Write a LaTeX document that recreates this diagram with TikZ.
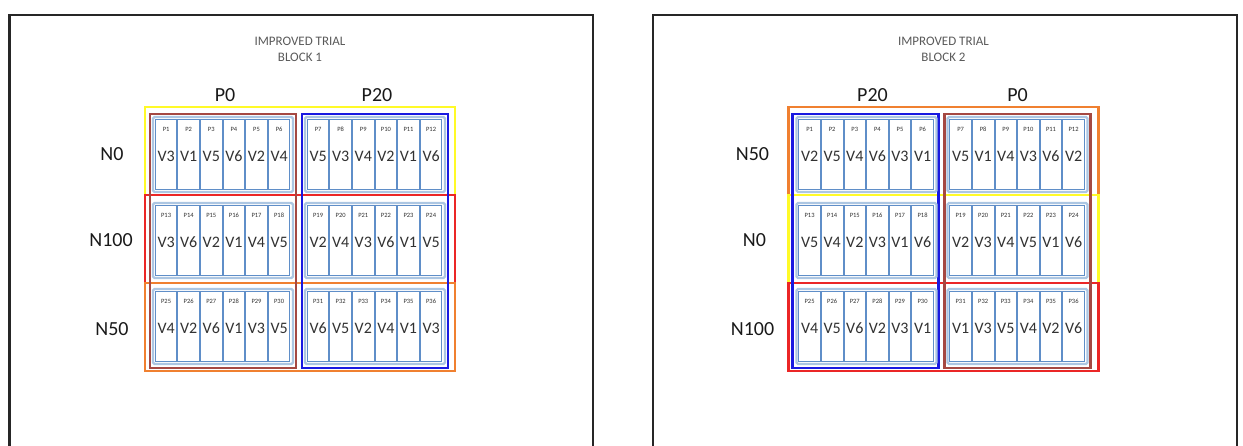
\documentclass[tikz,border=0pt]{standalone}
\usepackage{fontspec}
\setmainfont{Carlito}
\definecolor{cyel}{RGB}{255,250,40}
\definecolor{cbrown}{RGB}{165,72,66}
\definecolor{cblue}{RGB}{25,25,225}
\definecolor{cred}{RGB}{235,38,38}
\definecolor{corange}{RGB}{240,128,48}
\definecolor{lblue}{RGB}{172,198,226}
\definecolor{mblue}{RGB}{95,142,200}
\definecolor{txt}{RGB}{50,50,50}
\tikzset{
  box/.style={rectangle, inner sep=0pt, outer sep=0pt, anchor=north west},
  frame/.style={draw=black!85, line width=2.6pt},
  rowbox/.style={box, line width=2.4pt, minimum width=310pt, minimum height=88pt},
  colbox/.style={box, line width=2.2pt, minimum width=146pt, minimum height=254pt},
  blockbox/.style={box, draw=lblue, line width=2.4pt, rounded corners=1.5pt, fill=white, minimum width=140pt, minimum height=75pt},
  plotcol/.style={box, draw=mblue, line width=1pt, fill=white, minimum width=21.6pt, minimum height=70pt},
  plab/.style={inner sep=0pt, text=txt, font=\fontsize{6.5}{7}\selectfont},
  vlab/.style={inner sep=0pt, text=txt, font=\fontsize{16}{16}\selectfont},
  head/.style={inner sep=0pt, text=black!90, font=\fontsize{20}{20}\selectfont},
  title/.style={inner sep=0pt, text=black!65, font=\fontsize{13}{13}\selectfont},
}
\newcommand\myblock[5]{%
  \node[blockbox] (#1) at (#2,#3) {};
  \foreach \v [count=\i from 0] in {#5}{%
    \pgfmathtruncatemacro\pn{#4+\i}%
    \node[plotcol] (#1c\i) at ({#2+2.3+\i*22.6},{#3+2.5}) {};
    \node[plab] at ([yshift=-10pt]#1c\i.north) {P\pn};
    \node[vlab] at ([yshift=-37pt]#1c\i.north) {\v};
  }%
}
\begin{document}
\begin{tikzpicture}[x=1pt,y=-1pt]
\useasboundingbox (0,0) rectangle (1243,446);
% ---------------- left panel ----------------
\draw[frame] (9.5,447) -- (9.5,15) -- (593,15) -- (593,447);
\node[title] (lt1) at (300,41) {IMPROVED TRIAL};
\node[title] (lt2) at (300,57) {BLOCK 1};
\node[head] (lp0) at (225,95) {P0};
\node[head] (lp20) at (377,95) {P20};
\node[head] (ln0) at (112,154) {N0};
\node[head] (ln100) at (111,240) {N100};
\node[head] (ln50) at (112,329) {N50};
\node[rowbox, draw=cyel] (lr1) at (145,107) {};
\node[rowbox, draw=cred] (lr2) at (145,195) {};
\node[rowbox, draw=corange] (lr3) at (145,283) {};
\node[colbox, draw=cbrown] (lc1) at (150,114) {};
\node[colbox, draw=cblue] (lc2) at (302,114) {};
\myblock{La}{153}{117}{1}{V3,V1,V5,V6,V2,V4}
\myblock{Lb}{305}{117}{7}{V5,V3,V4,V2,V1,V6}
\myblock{Lc}{153}{203}{13}{V3,V6,V2,V1,V4,V5}
\myblock{Ld}{305}{203}{19}{V2,V4,V3,V6,V1,V5}
\myblock{Le}{153}{289}{25}{V4,V2,V6,V1,V3,V5}
\myblock{Lf}{305}{289}{31}{V6,V5,V2,V4,V1,V3}
% ---------------- right panel ----------------
\begin{scope}[xshift=643.5pt]
\draw[frame] (9.5,447) -- (9.5,15) -- (593.5,15) -- (593.5,447);
\node[title] (rt1) at (300,41) {IMPROVED TRIAL};
\node[title] (rt2) at (300,57) {BLOCK 2};
\node[head] (rp20) at (229,95) {P20};
\node[head] (rp0) at (374,95) {P0};
\node[head] (rn50) at (109,154) {N50};
\node[head] (rn0) at (111,240) {N0};
\node[head] (rn100) at (109,329) {N100};
\node[rowbox, draw=corange] (rr1) at (145,107) {};
\node[rowbox, draw=cyel] (rr2) at (145,195) {};
\node[rowbox, draw=cred] (rr3) at (145,283) {};
\node[colbox, draw=cblue] (rc1) at (149,114) {};
\node[colbox, draw=cbrown] (rc2) at (301,114) {};
\myblock{Ra}{153}{117}{1}{V2,V5,V4,V6,V3,V1}
\myblock{Rb}{304}{117}{7}{V5,V1,V4,V3,V6,V2}
\myblock{Rc}{153}{203}{13}{V5,V4,V2,V3,V1,V6}
\myblock{Rd}{304}{203}{19}{V2,V3,V4,V5,V1,V6}
\myblock{Re}{153}{289}{25}{V4,V5,V6,V2,V3,V1}
\myblock{Rf}{304}{289}{31}{V1,V3,V5,V4,V2,V6}
\end{scope}
\end{tikzpicture}
\end{document}
